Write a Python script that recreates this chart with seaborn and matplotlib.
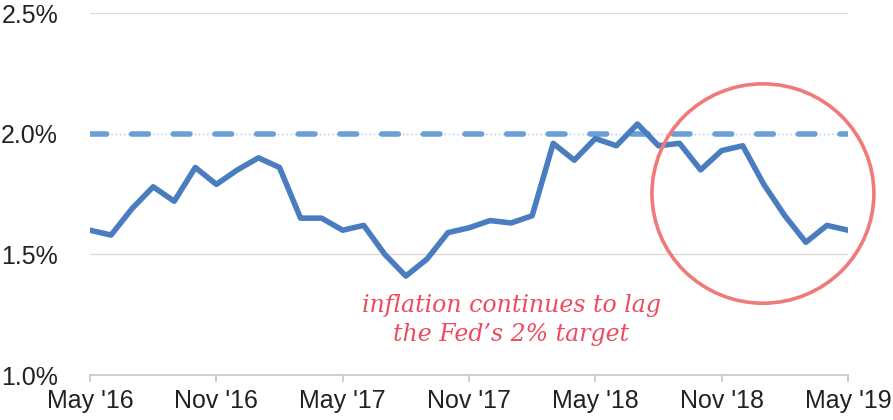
import matplotlib
matplotlib.use("Agg")
import matplotlib.pyplot as plt
from matplotlib.patches import Ellipse
import seaborn as sns
import pandas as pd

# monthly core inflation, May '16 .. May '19
months = pd.date_range("2016-05-01", "2019-05-01", freq="MS")
inflation = [1.60, 1.58, 1.69, 1.78, 1.72, 1.86, 1.79, 1.85, 1.90, 1.86,
             1.65, 1.65, 1.60, 1.62, 1.50, 1.41, 1.48, 1.59, 1.61, 1.64,
             1.63, 1.66, 1.96, 1.89, 1.98, 1.95, 2.04, 1.95, 1.96, 1.85,
             1.93, 1.95, 1.79, 1.66, 1.55, 1.62, 1.60]
target = 2.0
tick_labels = ["May '16", "Nov '16", "May '17", "Nov '17", "May '18", "Nov '18", "May '19"]
y_ticks = [1.0, 1.5, 2.0, 2.5]
note = "inflation continues to lag\nthe Fed\u2019s 2% target"

df = pd.DataFrame({"month": range(len(months)), "inflation": inflation})

sns.set_theme(style="white")
plt.rcParams["font.family"] = ["Liberation Sans", "DejaVu Sans"]

fig = plt.figure(figsize=(8.93, 4.2), dpi=100)
ax = fig.add_axes([0.1008, 0.1071, 0.8488, 0.8619])

for y in [1.5, 2.5]:
    ax.axhline(y, color="#dcdcdc", lw=1, zorder=0)
ax.axhline(target, color="#a9c4e4", lw=1, ls=(0, (1, 2)), zorder=1)
ax.axhline(target, color="#6a9fd8", lw=4, ls=(0, (3, 4.5)), dash_capstyle="round", zorder=2)

sns.lineplot(data=df, x="month", y="inflation", ax=ax, color="#4a7dc0", lw=4, zorder=3)

circle = Ellipse((31.96, 1.752), width=10.54, height=0.909, fill=False,
                 edgecolor="#f07a78", lw=2.6, zorder=4, clip_on=False)
ax.add_patch(circle)

ax.text(20, 1.227, note, ha="center", va="center", fontsize=17,
        family=["DejaVu Serif"], style="italic", color="#ee4a5e", linespacing=1.35)

ax.set_xlim(0, 36)
ax.set_ylim(1.0, 2.5)
ax.set_xticks(range(0, 37, 6))
ax.set_xticklabels(tick_labels)
ax.set_yticks(y_ticks)
ax.set_yticklabels([f"{v:.1f}%" for v in y_ticks])
ax.set_xlabel("")
ax.set_ylabel("")
for s in ["top", "right", "left"]:
    ax.spines[s].set_visible(False)
ax.spines["bottom"].set_color("#c8c8c8")
ax.spines["bottom"].set_linewidth(1.2)
ax.tick_params(axis="x", bottom=True, length=5, color="#c8c8c8", labelsize=18, pad=5, labelcolor="#222222")
ax.tick_params(axis="y", left=False, labelsize=18, pad=17, labelcolor="#222222")

fig.savefig("out.png", dpi=100)
